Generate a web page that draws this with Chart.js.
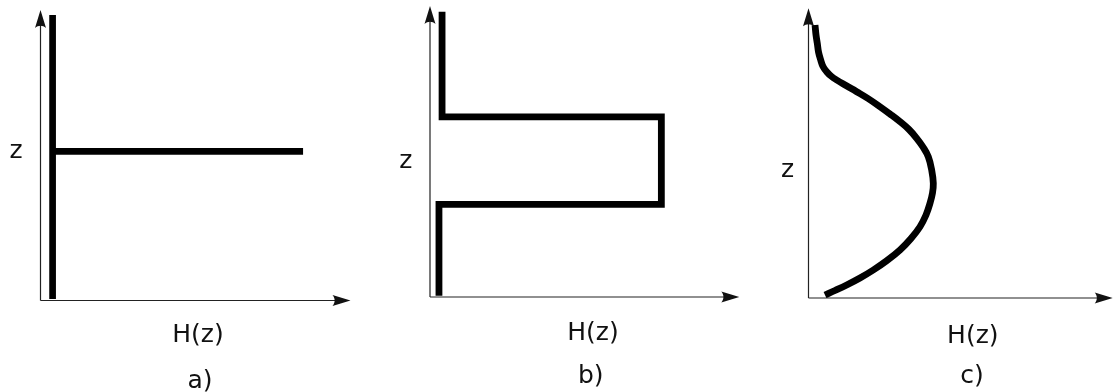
<!DOCTYPE html>
<html>
<head>
<meta charset="utf-8">
<script src="https://cdn.jsdelivr.net/npm/chart.js@4"></script>
<style>
html, body { margin: 0; padding: 0; background: #fff; }
#wrap { position: relative; width: 1113px; height: 392px; overflow: hidden; }
#wrap canvas { position: absolute; left: 0; top: 0; }
</style>
</head>
<body>
<div id="wrap">
  <canvas id="chartA" width="1113" height="392"></canvas>
  <canvas id="chartB" width="1113" height="392"></canvas>
  <canvas id="chartC" width="1113" height="392"></canvas>
</div>
<script>
// labels
var xLabel = "H(z)";
var yLabel = "z";
var captions = ["a)", "b)", "c)"];

// a) thin layer: vertical line plus one horizontal spike
var aVertH = [3.9, 3.9];
var aVertZ = [0.5, 98.3];
var aSpikeH = [3.9, 84.7];
var aSpikeZ = [51.3, 51.3];

// b) box shaped profile
var bH = [3.9, 3.9, 74.8, 74.8, 2.9, 2.9];
var bZ = [98.0, 61.9, 61.9, 31.8, 31.8, 0.4];

// c) smooth profile, read off top to bottom
var cH = [2.14, 2.47, 2.89, 3.29, 4.01, 4.77, 5.98, 7.40, 9.27, 12.33, 15.84, 19.56, 23.50, 26.79, 30.08, 33.04,
          35.57, 37.64, 39.38, 40.50, 41.03, 40.76, 39.94, 38.63, 36.65, 33.70, 30.08, 25.81, 21.30, 16.93, 12.56, 8.71, 5.42];
var cZ = [94.24, 90.78, 87.92, 84.92, 82.15, 79.91, 78.12, 76.63, 75.25, 73.35, 71.21, 68.86, 66.03, 63.51, 60.86, 58.16,
          55.13, 52.12, 48.77, 44.18, 39.59, 36.24, 32.69, 28.65, 24.61, 20.54, 16.57, 12.94, 9.67, 6.90, 4.49, 2.59, 1.04];

function toPoints(hs, zs) {
    return hs.map(function(h, i) { return { x: h, y: zs[i] }; });
}

// where each panel's axes sit on the page, and where its texts go (offsets from origin)
var panels = [
    { id: "chartA", box: { left: 40.5, top: 10, right: 350.5, bottom: 300.5 },
      zPos: [-24.5, -142.8], hPos: [157.5, 41.2], capPos: [159.5, 87],
      series: [toPoints(aVertH, aVertZ), toPoints(aSpikeH, aSpikeZ)], width: 6.7, tension: 0 },
    { id: "chartB", box: { left: 430, top: 6, right: 739.3, bottom: 297 },
      zPos: [-24.2, -128.7], hPos: [163, 43], capPos: [160.8, 85.5],
      series: [toPoints(bH, bZ)], width: 6.8, tension: 0 },
    { id: "chartC", box: { left: 808.5, top: 8.3, right: 1112.7, bottom: 298 },
      zPos: [-21, -121.3], hPos: [164.3, 45.3], capPos: [163.5, 84.5],
      series: [toPoints(cH, cZ)], width: 6.8, tension: 0.4 }
];

function arrowHead(ctx, x, y, angle) {
    var len = 18, half = 5.5;
    ctx.save();
    ctx.translate(x, y);
    ctx.rotate(angle);
    ctx.beginPath();
    ctx.moveTo(0, 0);
    ctx.lineTo(-len, -half);
    ctx.bezierCurveTo(-len * 0.84, -half * 0.4, -len * 0.84, half * 0.4, -len, half);
    ctx.closePath();
    ctx.fillStyle = "#111";
    ctx.fill();
    ctx.restore();
}

var axesPlugin = {
    id: "axesArrows",
    beforeDatasetsDraw: function(chart, args, opts) {
        var sx = chart.scales.x, sy = chart.scales.y;
        var ctx = chart.ctx;
        var x0 = sx.getPixelForValue(0), y0 = sy.getPixelForValue(0);
        var x1 = sx.getPixelForValue(sx.max), y1 = sy.getPixelForValue(sy.max);
        ctx.save();
        ctx.strokeStyle = "#222";
        ctx.lineWidth = 1.2;
        ctx.beginPath();
        ctx.moveTo(x0, y0);
        ctx.lineTo(x1 - 12, y0);
        ctx.moveTo(x0, y0);
        ctx.lineTo(x0, y1 + 12);
        ctx.stroke();
        arrowHead(ctx, x1, y0, 0);
        arrowHead(ctx, x0, y1, -Math.PI / 2);

        ctx.fillStyle = "#111";
        ctx.font = "25px 'DejaVu Sans'";
        ctx.textAlign = "center";
        ctx.textBaseline = "alphabetic";
        ctx.fillText(yLabel, x0 + opts.zPos[0], y0 + opts.zPos[1]);
        ctx.fillText(xLabel, x0 + opts.hPos[0], y0 + opts.hPos[1]);
        ctx.fillText(opts.caption, x0 + opts.capPos[0], y0 + opts.capPos[1]);
        ctx.restore();
    }
};

panels.forEach(function(p, i) {
    new Chart(p.id, {
        type: "scatter",
        data: {
            datasets: p.series.map(function(pts) {
                return {
                    data: pts,
                    showLine: true,
                    borderColor: "#000",
                    borderWidth: p.width,
                    borderCapStyle: "butt",
                    borderJoinStyle: "miter",
                    pointRadius: 0,
                    tension: p.tension,
                    clip: false
                };
            })
        },
        options: {
            responsive: false,
            animation: false,
            devicePixelRatio: 1,
            layout: {
                padding: {
                    left: p.box.left,
                    top: p.box.top,
                    right: 1113 - p.box.right,
                    bottom: 392 - p.box.bottom
                }
            },
            scales: {
                x: { type: "linear", min: 0, max: 100, display: false },
                y: { type: "linear", min: 0, max: 100, display: false }
            },
            plugins: {
                legend: { display: false },
                tooltip: { enabled: false },
                axesArrows: { zPos: p.zPos, hPos: p.hPos, capPos: p.capPos, caption: captions[i] }
            }
        },
        plugins: [axesPlugin]
    });
});
</script>
</body>
</html>
